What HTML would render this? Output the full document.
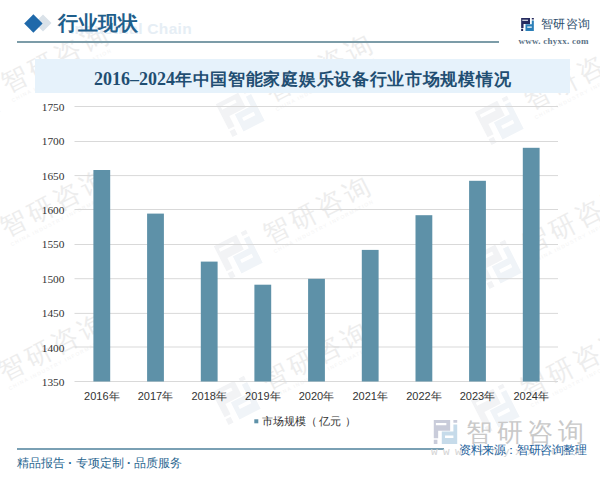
<!DOCTYPE html>
<html><head><meta charset="utf-8">
<style>
*{margin:0;padding:0;box-sizing:border-box}
html,body{width:600px;height:477px;overflow:hidden;background:#fff}
body{position:relative;font-family:"Liberation Sans",sans-serif;text-spacing-trim:space-all}
.a{position:absolute;white-space:nowrap}
svg{overflow:visible}
</style></head><body>


<!-- watermarks -->
<svg class="a" style="left:0;top:0" width="600" height="477" viewBox="0 0 600 477">
    <g transform="translate(-24,103) rotate(-27)">
      <g transform="translate(-18,-18) scale(2.93)">
        <path fill="#f2f3f5" fill-rule="evenodd" d="M0,0H8.6V5.7H2.3V9.6H0Z M1.1,1.6H6.6V2.7H1.1Z M0,10.4H1.9V12.6H0Z M10.3,0H12.3V1.4H10.3Z"/>
        <path fill="#f0f4f8" fill-rule="evenodd" d="M10.3,2.4H12.3V12.6H4.2V6.1H10.3Z M5.9,8.2H10.3V9.5H5.9Z"/>
      </g>
      <text x="32.2" y="5.5" font-family="Liberation Sans, sans-serif" font-size="26" letter-spacing="3.7" font-weight="500" fill="#ededed">智研咨询</text>
      <text x="33" y="16" font-family="Liberation Sans, sans-serif" font-size="5" letter-spacing="1.3" fill="#f3f3f3">CHINA INDUSTRY INFORMATION</text>
    </g>
  <g transform="translate(240,112) rotate(-27)">
      <g transform="translate(-18,-18) scale(2.93)">
        <path fill="#f2f3f5" fill-rule="evenodd" d="M0,0H8.6V5.7H2.3V9.6H0Z M1.1,1.6H6.6V2.7H1.1Z M0,10.4H1.9V12.6H0Z M10.3,0H12.3V1.4H10.3Z"/>
        <path fill="#f0f4f8" fill-rule="evenodd" d="M10.3,2.4H12.3V12.6H4.2V6.1H10.3Z M5.9,8.2H10.3V9.5H5.9Z"/>
      </g>
      <text x="32.2" y="5.5" font-family="Liberation Sans, sans-serif" font-size="26" letter-spacing="3.7" font-weight="500" fill="#ededed">智研咨询</text>
      <text x="33" y="16" font-family="Liberation Sans, sans-serif" font-size="5" letter-spacing="1.3" fill="#f3f3f3">CHINA INDUSTRY INFORMATION</text>
    </g>
  <g transform="translate(499,120) rotate(-27)">
      <g transform="translate(-18,-18) scale(2.93)">
        <path fill="#f2f3f5" fill-rule="evenodd" d="M0,0H8.6V5.7H2.3V9.6H0Z M1.1,1.6H6.6V2.7H1.1Z M0,10.4H1.9V12.6H0Z M10.3,0H12.3V1.4H10.3Z"/>
        <path fill="#f0f4f8" fill-rule="evenodd" d="M10.3,2.4H12.3V12.6H4.2V6.1H10.3Z M5.9,8.2H10.3V9.5H5.9Z"/>
      </g>
      <text x="32.2" y="5.5" font-family="Liberation Sans, sans-serif" font-size="26" letter-spacing="3.7" font-weight="500" fill="#ededed">智研咨询</text>
      <text x="33" y="16" font-family="Liberation Sans, sans-serif" font-size="5" letter-spacing="1.3" fill="#f3f3f3">CHINA INDUSTRY INFORMATION</text>
    </g>
  <g transform="translate(-25,247) rotate(-27)">
      <g transform="translate(-18,-18) scale(2.93)">
        <path fill="#f2f3f5" fill-rule="evenodd" d="M0,0H8.6V5.7H2.3V9.6H0Z M1.1,1.6H6.6V2.7H1.1Z M0,10.4H1.9V12.6H0Z M10.3,0H12.3V1.4H10.3Z"/>
        <path fill="#f0f4f8" fill-rule="evenodd" d="M10.3,2.4H12.3V12.6H4.2V6.1H10.3Z M5.9,8.2H10.3V9.5H5.9Z"/>
      </g>
      <text x="32.2" y="5.5" font-family="Liberation Sans, sans-serif" font-size="26" letter-spacing="3.7" font-weight="500" fill="#ededed">智研咨询</text>
      <text x="33" y="16" font-family="Liberation Sans, sans-serif" font-size="5" letter-spacing="1.3" fill="#f3f3f3">CHINA INDUSTRY INFORMATION</text>
    </g>
  <g transform="translate(238,254) rotate(-27)">
      <g transform="translate(-18,-18) scale(2.93)">
        <path fill="#f2f3f5" fill-rule="evenodd" d="M0,0H8.6V5.7H2.3V9.6H0Z M1.1,1.6H6.6V2.7H1.1Z M0,10.4H1.9V12.6H0Z M10.3,0H12.3V1.4H10.3Z"/>
        <path fill="#f0f4f8" fill-rule="evenodd" d="M10.3,2.4H12.3V12.6H4.2V6.1H10.3Z M5.9,8.2H10.3V9.5H5.9Z"/>
      </g>
      <text x="32.2" y="5.5" font-family="Liberation Sans, sans-serif" font-size="26" letter-spacing="3.7" font-weight="500" fill="#ededed">智研咨询</text>
      <text x="33" y="16" font-family="Liberation Sans, sans-serif" font-size="5" letter-spacing="1.3" fill="#f3f3f3">CHINA INDUSTRY INFORMATION</text>
    </g>
  <g transform="translate(497,264) rotate(-27)">
      <g transform="translate(-18,-18) scale(2.93)">
        <path fill="#f2f3f5" fill-rule="evenodd" d="M0,0H8.6V5.7H2.3V9.6H0Z M1.1,1.6H6.6V2.7H1.1Z M0,10.4H1.9V12.6H0Z M10.3,0H12.3V1.4H10.3Z"/>
        <path fill="#f0f4f8" fill-rule="evenodd" d="M10.3,2.4H12.3V12.6H4.2V6.1H10.3Z M5.9,8.2H10.3V9.5H5.9Z"/>
      </g>
      <text x="32.2" y="5.5" font-family="Liberation Sans, sans-serif" font-size="26" letter-spacing="3.7" font-weight="500" fill="#ededed">智研咨询</text>
      <text x="33" y="16" font-family="Liberation Sans, sans-serif" font-size="5" letter-spacing="1.3" fill="#f3f3f3">CHINA INDUSTRY INFORMATION</text>
    </g>
  <g transform="translate(-27,391) rotate(-27)">
      <g transform="translate(-18,-18) scale(2.93)">
        <path fill="#f2f3f5" fill-rule="evenodd" d="M0,0H8.6V5.7H2.3V9.6H0Z M1.1,1.6H6.6V2.7H1.1Z M0,10.4H1.9V12.6H0Z M10.3,0H12.3V1.4H10.3Z"/>
        <path fill="#f0f4f8" fill-rule="evenodd" d="M10.3,2.4H12.3V12.6H4.2V6.1H10.3Z M5.9,8.2H10.3V9.5H5.9Z"/>
      </g>
      <text x="32.2" y="5.5" font-family="Liberation Sans, sans-serif" font-size="26" letter-spacing="3.7" font-weight="500" fill="#ededed">智研咨询</text>
      <text x="33" y="16" font-family="Liberation Sans, sans-serif" font-size="5" letter-spacing="1.3" fill="#f3f3f3">CHINA INDUSTRY INFORMATION</text>
    </g>
  <g transform="translate(236,400) rotate(-27)">
      <g transform="translate(-18,-18) scale(2.93)">
        <path fill="#f2f3f5" fill-rule="evenodd" d="M0,0H8.6V5.7H2.3V9.6H0Z M1.1,1.6H6.6V2.7H1.1Z M0,10.4H1.9V12.6H0Z M10.3,0H12.3V1.4H10.3Z"/>
        <path fill="#f0f4f8" fill-rule="evenodd" d="M10.3,2.4H12.3V12.6H4.2V6.1H10.3Z M5.9,8.2H10.3V9.5H5.9Z"/>
      </g>
      <text x="32.2" y="5.5" font-family="Liberation Sans, sans-serif" font-size="26" letter-spacing="3.7" font-weight="500" fill="#ededed">智研咨询</text>
      <text x="33" y="16" font-family="Liberation Sans, sans-serif" font-size="5" letter-spacing="1.3" fill="#f3f3f3">CHINA INDUSTRY INFORMATION</text>
    </g>
  <g transform="translate(495,408) rotate(-27)">
      <g transform="translate(-18,-18) scale(2.93)">
        <path fill="#f2f3f5" fill-rule="evenodd" d="M0,0H8.6V5.7H2.3V9.6H0Z M1.1,1.6H6.6V2.7H1.1Z M0,10.4H1.9V12.6H0Z M10.3,0H12.3V1.4H10.3Z"/>
        <path fill="#f0f4f8" fill-rule="evenodd" d="M10.3,2.4H12.3V12.6H4.2V6.1H10.3Z M5.9,8.2H10.3V9.5H5.9Z"/>
      </g>
      <text x="32.2" y="5.5" font-family="Liberation Sans, sans-serif" font-size="26" letter-spacing="3.7" font-weight="500" fill="#ededed">智研咨询</text>
      <text x="33" y="16" font-family="Liberation Sans, sans-serif" font-size="5" letter-spacing="1.3" fill="#f3f3f3">CHINA INDUSTRY INFORMATION</text>
    </g>
</svg>

<!-- title band -->
<div class="a" style="left:35px;top:59px;width:535px;height:34px;background:#e6f2fb"></div>

<!-- header -->
<div class="a" style="left:36.5px;top:16.8px;width:12px;height:12px;background:#dae2e9;transform:rotate(45deg)"></div>
<div class="a" style="left:26.6px;top:16.6px;width:12.8px;height:12.8px;background:#1f69aa;transform:rotate(45deg)"></div>
<div class="a" style="left:70px;top:19.5px;font:bold 15.5px 'Liberation Sans',sans-serif;color:#e6eef5;letter-spacing:0.3px">Industrial Chain</div>
<div class="a" style="left:58px;top:10px;font-size:20px;line-height:26px;font-weight:bold;color:#1f5f8c">行业现状</div>
<div class="a" style="left:17px;top:41px;width:482px;height:2px;background:#7c9ca8"></div>

<!-- top right logo -->
<svg class="a" style="left:521px;top:18px" width="13" height="13" viewBox="0 0 12.3 12.6">
  <path fill="#262b5f" fill-rule="evenodd" d="M0,0H8.6V5.7H2.3V9.6H0Z M1.1,1.6H6.6V2.7H1.1Z M0,10.4H1.9V12.6H0Z M10.3,0H12.3V1.4H10.3Z"/>
  <path fill="#2b7fb8" fill-rule="evenodd" d="M10.3,2.4H12.3V12.6H4.2V6.1H10.3Z M5.9,8.2H10.3V9.5H5.9Z"/>
</svg>
<div class="a" style="left:541px;top:16px;font-size:11.5px;line-height:16px;color:#2c4d6c;letter-spacing:0.3px">智研咨询</div>
<div class="a" style="left:518.5px;top:35px;font:bold 9px/12px 'Liberation Serif',serif;color:#5b7286;letter-spacing:0.25px">www. chyxx. com</div>

<!-- title -->
<div class="a" style="left:94px;top:65.5px;font:bold 18px/26px 'Liberation Serif',serif;color:#1f4e72">2016–2024<span style="font-family:'Liberation Sans',sans-serif;font-size:17px;letter-spacing:0.7px">年中国智能家庭娱乐设备行业市场规模情况</span></div>

<!-- chart -->
<svg class="a" style="left:0;top:0" width="600" height="477" viewBox="0 0 600 477">
  <g stroke="#d9d9d9" stroke-width="1">
    <line x1="74.5" x2="558" y1="106.5" y2="106.5"/>
    <line x1="74.5" x2="558" y1="141.5" y2="141.5"/>
    <line x1="74.5" x2="558" y1="175.6" y2="175.6"/>
    <line x1="74.5" x2="558" y1="209.5" y2="209.5"/>
    <line x1="74.5" x2="558" y1="244.5" y2="244.5"/>
    <line x1="74.5" x2="558" y1="278.7" y2="278.7"/>
    <line x1="74.5" x2="558" y1="313.4" y2="313.4"/>
    <line x1="74.5" x2="558" y1="347" y2="347"/>
    <line x1="74.5" x2="558" y1="381.5" y2="381.5"/>
  </g>
  <g fill="#5e91a8">
    <rect x="93.4" y="170" width="16.8" height="211.5"/>
    <rect x="147.1" y="213.6" width="16.8" height="167.9"/>
    <rect x="200.8" y="261.6" width="16.8" height="119.9"/>
    <rect x="254.4" y="284.7" width="16.8" height="96.8"/>
    <rect x="308.1" y="278.8" width="16.8" height="102.7"/>
    <rect x="361.8" y="249.9" width="16.8" height="131.6"/>
    <rect x="415.5" y="215.2" width="16.8" height="166.3"/>
    <rect x="469.1" y="180.8" width="16.8" height="200.7"/>
    <rect x="522.8" y="147.8" width="16.8" height="233.7"/>
  </g>
  <g font-family="Liberation Serif, serif" font-size="11.4" fill="#333" text-anchor="end">
    <text x="64.5" y="110.8">1750</text>
    <text x="64.5" y="145.2">1700</text>
    <text x="64.5" y="179.6">1650</text>
    <text x="64.5" y="214">1600</text>
    <text x="64.5" y="248.4">1550</text>
    <text x="64.5" y="282.8">1500</text>
    <text x="64.5" y="317.2">1450</text>
    <text x="64.5" y="351.6">1400</text>
    <text x="64.5" y="386">1350</text>
  </g>
  <g font-family="Liberation Sans, sans-serif" font-size="11" fill="#333" text-anchor="middle">
    <text x="101.8" y="399.5">2016年</text>
    <text x="155.5" y="399.5">2017年</text>
    <text x="209.2" y="399.5">2018年</text>
    <text x="262.8" y="399.5">2019年</text>
    <text x="316.5" y="399.5">2020年</text>
    <text x="370.2" y="399.5">2021年</text>
    <text x="423.9" y="399.5">2022年</text>
    <text x="477.5" y="399.5">2023年</text>
    <text x="531.2" y="399.5">2024年</text>
  </g>
  <rect x="254.3" y="419.3" width="4" height="4" fill="#5e91a8"/>
</svg>
<div class="a" style="left:261.7px;top:413px;font-size:11px;line-height:16px;color:#333">市场规模（<span style="margin-left:2.5px">亿元</span><span style="margin-left:3.5px">）</span></div>

<!-- footer -->
<div class="a" style="left:17px;top:448px;width:427px;height:2px;background:#7aa0b4"></div>
<div class="a" style="left:17px;top:454.5px;font-size:12px;line-height:16px;color:#2a6690">精品报告 <b>·</b> 专项定制 <b>·</b> 品质服务</div>

<!-- bottom-right watermark logo -->
<svg class="a" style="left:433px;top:420px" width="25" height="24" viewBox="0 0 12.3 12.6">
  <path fill="#c9ccda" fill-rule="evenodd" d="M0,0H8.6V5.7H2.3V9.6H0Z M1.1,1.6H6.6V2.7H1.1Z M0,10.4H1.9V12.6H0Z M10.3,0H12.3V1.4H10.3Z"/>
  <path fill="#c6dbea" fill-rule="evenodd" d="M10.3,2.4H12.3V12.6H4.2V6.1H10.3Z M5.9,8.2H10.3V9.5H5.9Z"/>
</svg>
<div class="a" style="left:466px;top:417px;font-size:26px;line-height:30px;font-weight:500;letter-spacing:4.7px;color:#c9c9c9">智研咨询</div>
<div class="a" style="left:431px;top:444.5px;font:11px/14px 'Liberation Mono',monospace;color:#d4d4d4;letter-spacing:5.4px">www.chyxx.com</div>
<div class="a" style="left:459px;top:442px;font-size:11.6px;line-height:16px;letter-spacing:-0.4px;color:#21609a">资料来源：智研咨询整理</div>

</body></html>
